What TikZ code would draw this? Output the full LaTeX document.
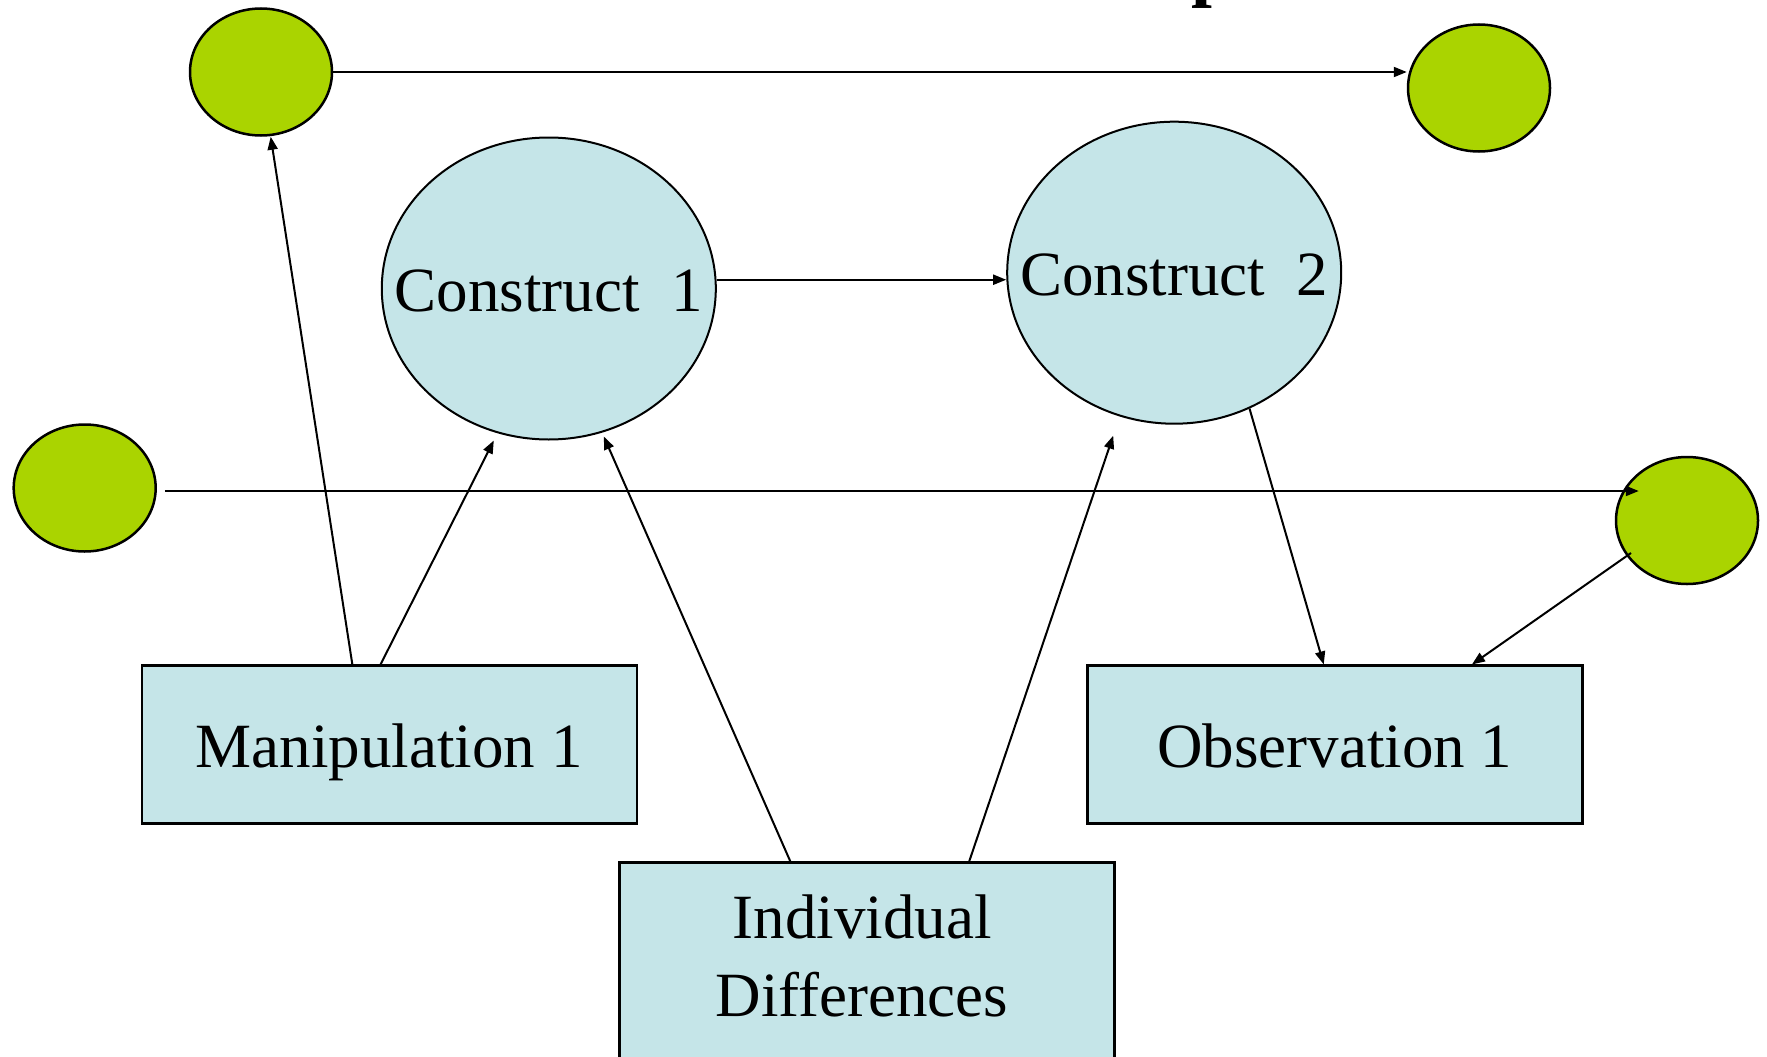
\documentclass[tikz,border=0pt]{standalone}
\usepackage{fontspec}
\setmainfont{Liberation Serif}
\usetikzlibrary{shapes.geometric,arrows.meta}
\definecolor{lime}{RGB}{170,212,0}
\definecolor{paleblue}{RGB}{197,229,232}

\begin{document}
\begin{tikzpicture}[x=1pt,y=-1pt,
  blob/.style={ellipse, draw, line width=2.5pt, fill=lime,
    minimum width=142pt, minimum height=127pt, inner sep=0pt},
  construct/.style={ellipse, draw, line width=2pt, fill=paleblue,
    minimum width=334pt, minimum height=302pt, inner sep=0pt},
  box/.style={rectangle, draw, line width=2.5pt, fill=paleblue,
    minimum width=495pt, minimum height=158pt, inner sep=0pt},
  txt/.style={font=\fontsize{63}{78}\selectfont, text height=45pt,
    text depth=0pt, inner sep=0pt},
  link/.style={line width=2pt, -{Triangle[length=13pt,width=10pt]}}]

\useasboundingbox (0,0) rectangle (1767,1057);

% title fragment at the top edge
\node[font=\bfseries\fontsize{75}{90}\selectfont, anchor=base west,
  inner sep=0pt] (titlep) at (1191,-7) {p};

% green latent nodes
\node[blob] (g1) at (261,72) {};
\node[blob] (g2) at (1479,88) {};
\node[blob] (g3) at (84.7,488) {};
\node[blob] (g4) at (1687,520.5) {};

% constructs
\node[construct, label={[txt]center:Construct~~1}] (c1) at (548.8,288.5) {};
\node[construct, label={[txt]center:Construct~~2}] (c2) at (1174.2,272.7) {};

% boxes
\node[box, txt] (m1) at (389.3,744.7) {Manipulation 1};
\node[box, txt] (o1) at (1334.8,744.7) {Observation 1};
\node[box, minimum height=230pt] (id) at (867,977.5) {};
\node[font=\fontsize{63}{78}\selectfont, align=center, anchor=north,
  inner sep=0pt] (idtxt) at ([shift={(-5pt,-33pt)}]id.north) {Individual\\Differences};

% connectors
\draw[link] (g1.east) -- (g1.east -| g2.west);
\draw[link] ([shift={(8pt,-3pt)}]g3.east) -- ([shift={(24pt,29.5pt)}]g4.west);
\draw[link] ([shift={(-56pt,-32.5pt)}]g4.center) -- ([xshift=-111.6pt]o1.north east);
\draw[link] (c2.-61.8) -- ([xshift=237.7pt]o1.north west);
\draw[link] (c1.3) -- (c1.3 -| c2.west);
\draw[link] ([xshift=211.8pt]m1.north west) -- ([xshift=9.7pt]g1.south);
\draw[link] ([xshift=240pt]m1.north west) -- ([shift={(-55pt,-152pt)}]c1.center);
\draw[link] ([xshift=172pt]id.north west) -- ([shift={(55pt,-148pt)}]c1.center);
\draw[link] ([xshift=351pt]id.north west) -- ([shift={(-61pt,-163pt)}]c2.center);
\end{tikzpicture}
\end{document}
